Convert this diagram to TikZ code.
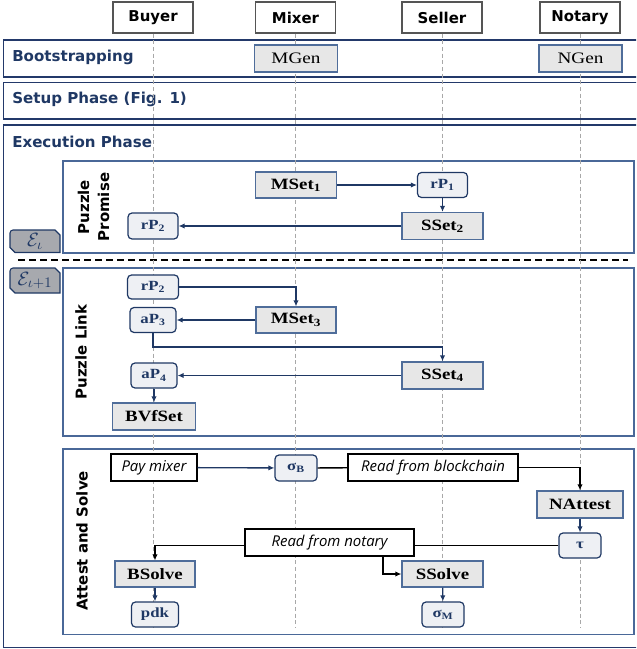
\documentclass[tikz,border=0pt]{standalone}
\usepackage{fontspec}
\newfontfamily\sansf{DejaVu Sans}
\newfontfamily\serf[FakeStretch=1.2]{Liberation Serif}
\newfontfamily\itf{Open Sans}
\usetikzlibrary{arrows.meta}
\definecolor{navy}{HTML}{1F3864}
\definecolor{phasecol}{HTML}{23396A}
\definecolor{innercol}{HTML}{4A6898}
\definecolor{grayfill}{HTML}{E7E7E7}
\definecolor{grayborder}{HTML}{4F6D9A}
\definecolor{valfill}{HTML}{EEF0F4}
\definecolor{tabfill}{HTML}{A7A9AE}
\definecolor{hdrgray}{HTML}{555555}
\definecolor{lifegray}{HTML}{A8A8A8}
\tikzset{
  sz/.style 2 args={minimum width=#1*0.75pt, minimum height=#2*0.75pt},
  hdr/.style={draw=hdrgray, fill=white, line width=0.8pt, inner sep=0pt, font=\sansf\bfseries\fontsize{11.2}{13}\selectfont},
  alg/.style={draw=grayborder, fill=grayfill, line width=0.9pt, inner sep=0pt, text=black, font=\serf\bfseries\fontsize{11.8}{13}\selectfont},
  gen/.style={alg, font=\serf\fontsize{12}{13}\selectfont},
  val/.style={draw=navy, fill=valfill, rounded corners=3pt, line width=0.9pt, inner sep=0pt, text=navy, font=\serf\bfseries\fontsize{10.5}{11}\selectfont},
  lbl/.style={draw=black, fill=white, line width=0.9pt, inner sep=0pt, font=\itf\itshape\fontsize{11.2}{12}\selectfont},
  phasetxt/.style={anchor=base west, inner sep=0pt, text=navy, font=\sansf\bfseries\fontsize{11.3}{13}\selectfont},
  vlab/.style={rotate=90, inner sep=0pt, text=black, align=center, font=\sansf\bfseries\fontsize{11.2}{15}\selectfont},
  tabshape/.style={draw=navy, fill=tabfill, line width=0.8pt},
  tabtxt/.style={inner sep=0pt, text=navy, font=\fontsize{15}{15}\selectfont},
  phasebox/.style={draw=phasecol, line width=1pt},
  innerbox/.style={draw=innercol, line width=0.9pt},
  life/.style={draw=lifegray, line width=0.7pt, dash pattern=on 3pt off 2pt},
  arr/.style={draw=navy, line width=1pt, -{Latex[length=4.5pt,width=4pt]}},
  blk/.style={draw=black, line width=1pt},
  blkarr/.style={blk, -{Latex[length=4.5pt,width=4pt]}},
}
\begin{document}
\begin{tikzpicture}[x=0.75pt,y=-0.75pt]
\path[use as bounding box] (0,0) rectangle (636,649);
\clip (0,0) rectangle (636,649);
% phase boxes
\draw[phasebox] (3.5,40) rectangle (645,77);
\draw[phasebox] (3.5,82.5) rectangle (645,119);
\draw[phasebox] (3.5,125) rectangle (645,647.5);
\draw[innerbox] (63,161) rectangle (634,253);
\draw[innerbox] (63,268) rectangle (634,436);
\draw[innerbox] (63,449) rectangle (634,634.5);
\node[phasetxt] (tboot) at (12,62) {Bootstrapping};
\node[phasetxt] (tsetup) at (12,104) {Setup Phase (Fig. 1)};
\node[phasetxt] (texec) at (12,147) {Execution Phase};
% dashed separator
\draw[black, line width=1.5pt, dash pattern=on 5.25pt off 3pt] (18,260) -- (628,260);
% headers
\node[hdr, sz={80}{31}] (hB) at (153,17.5) {Buyer};
\node[hdr, sz={80}{31}] (hM) at (295.5,17.5) {Mixer};
\node[hdr, sz={80}{31}] (hS) at (442,17.5) {Seller};
\node[hdr, sz={80}{31}] (hN) at (580,17.5) {Notary};
\coordinate (eB) at (153,628);
\coordinate (eM) at (295.5,628);
\coordinate (eS) at (442,628);
\coordinate (eN) at (580,628);
\draw[life] (hB.south) -- (eB);
\draw[life] (hM.south) -- (eM);
\draw[life] (hS.south) -- (eS);
\draw[life] (hN.south) -- (eN);
% bootstrapping
\node[gen, sz={83}{27}] (mgen) at (296,58.5) {MGen};
\node[gen, sz={83}{27}] (ngen) at (580.5,58.5) {NGen};
% tabs
\filldraw[tabshape] (15,252.5) -- (10,247.5) -- (10,233) to[out=90,in=180] (13,230) -- (55,230) -- (60,235) -- (60,252.5) -- cycle;
\filldraw[tabshape] (15,293) -- (10,288) -- (10,271) to[out=90,in=180] (13,268) -- (55,268) -- (60,273) -- (60,293) -- cycle;
\node[tabtxt] (ei) at (35,241) {$\mathcal{E}_{\iota}$};
\node[tabtxt] (ei1) at (35,280.5) {$\mathcal{E}_{\iota+1}$};
% vertical labels
\node[vlab] (lpp) at (93.5,207) {Puzzle\\Promise};
\node[vlab] (lpl) at (81,352) {Puzzle Link};
\node[vlab] (las) at (82,541) {Attest and Solve};
% puzzle promise
\node[alg, sz={81}{26}] (ms1) at (296,185) {MSet\textsubscript{1}};
\node[val, sz={50}{25}] (rp1) at (442.5,185) {rP\textsubscript{1}};
\node[alg, sz={81}{27}] (ss2) at (442.5,226) {SSet\textsubscript{2}};
\node[val, sz={50}{26}] (rp2a) at (153,226) {rP\textsubscript{2}};
\draw[arr] (ms1) -- (rp1);
\draw[arr] (rp1) -- (ss2);
\draw[arr] (ss2) -- (rp2a);
% puzzle link
\node[val, sz={51}{24}] (rp2b) at (153,287) {rP\textsubscript{2}};
\node[val, sz={46}{25}] (ap3) at (153,320) {aP\textsubscript{3}};
\node[alg, sz={80}{26}] (ms3) at (296,320) {MSet\textsubscript{3}};
\node[val, sz={46}{25}] (ap4) at (154,375.5) {aP\textsubscript{4}};
\node[alg, sz={81}{27}] (ss4) at (442.5,375.5) {SSet\textsubscript{4}};
\node[alg, sz={83}{27}] (bvf) at (154,416.5) {BVfSet};
\coordinate (k1) at (153,347);
\draw[arr] (rp2b.east) -| (ms3.north);
\draw[arr] (ms3) -- (ap3);
\draw[arr] (ap3.south) -- (k1) -| (ss4.north);
\draw[arr] (ss4) -- (ap4);
\draw[arr] (ap4) -- (bvf);
% attest and solve
\node[lbl, sz={86}{27}] (pay) at (154,467.5) {Pay mixer};
\node[val, sz={42}{26}] (sb) at (296,468) {σ\textsubscript{B}};
\node[lbl, sz={170}{27}] (rfb) at (433,467.5) {Read from blockchain};
\node[alg, sz={86}{27}] (nat) at (580,504.5) {NAttest};
\node[val, sz={42}{25}] (tau) at (580,545.5) {τ};
\node[lbl, sz={169}{27}] (rfn) at (329.5,542.5) {Read from notary};
\node[alg, sz={80}{26}] (bsol) at (155,574) {BSolve};
\node[alg, sz={81}{26}] (ssol) at (442.5,574) {SSolve};
\node[val, sz={47}{25}] (pdk) at (155,614.5) {pdk};
\node[val, sz={42}{25}] (sm) at (443,614.5) {σ\textsubscript{M}};
\coordinate (k2) at (383,556);
\draw[arr] (pay) -- (sb);
\draw[blk] (sb) -- (rfb);
\draw[blkarr] (rfb.east) -| (nat.north);
\draw[arr] (nat) -- (tau);
\draw[blk] (tau.west) -- (tau.west -| rfn.east);
\draw[blkarr] (tau.west -| rfn.west) -| (bsol.north);
\draw[blkarr] (rfn.south -| k2) |- (ssol.west);
\draw[arr] (bsol) -- (pdk);
\draw[arr] (ssol) -- (sm);
\end{tikzpicture}
\end{document}
